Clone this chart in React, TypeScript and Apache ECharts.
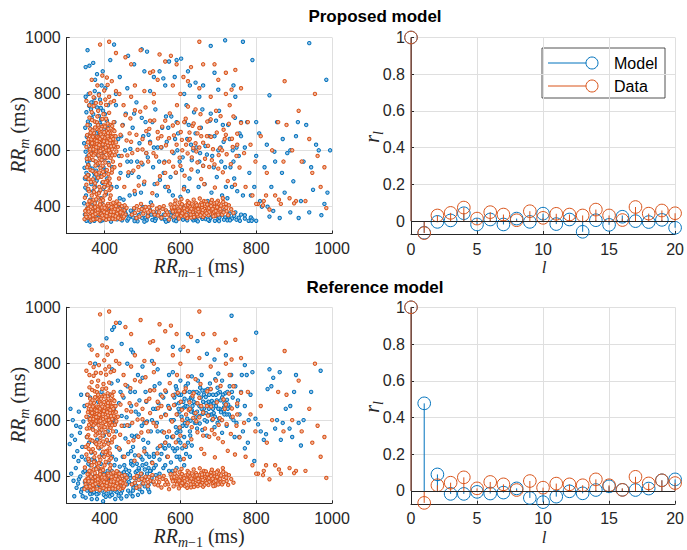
import React, { useEffect, useRef } from "react";
import * as echarts from "echarts";

const BLUE = "#0072BD";
const ORANGE = "#D95319";
const INK = "#262626";
const GRID = "#dfdfdf";
const SANS = "'Liberation Sans', Arial, Helvetica, sans-serif";
const SERIF = "'Liberation Serif', 'Times New Roman', serif";

// ---- autocorrelation (stem) data ----
const lags = [0, 1, 2, 3, 4, 5, 6, 7, 8, 9, 10, 11, 12, 13, 14, 15, 16, 17, 18, 19, 20];
const dataAcf = [1, -0.065, 0.031, 0.045, 0.074, 0.014, 0.049, 0.036, 0.005, 0.054, 0.018, 0.04, 0.036, 0.031, 0.063, 0.031, 0.014, 0.077, 0.041, 0.058, 0.043];
const proposedAcf = [1, -0.063, -0.004, 0.004, 0.043, -0.018, 0.009, -0.018, 0.014, -0.004, 0.041, -0.016, 0.009, -0.058, 0.005, -0.02, 0.031, 0.0, -0.005, 0.007, -0.036];
const referenceAcf = [1, 0.477, 0.09, -0.016, -0.016, -0.005, -0.014, -0.009, 0.014, -0.038, -0.061, -0.031, -0.002, -0.013, 0.005, 0.025, 0.013, 0.005, 0.013, 0.058, 0.063];

// ---- Poincaré scatter data: flat (RR_{m-1}, RR_m) pairs in ms ----
const dataShortLong = [352,612,358,640,361,598,365,655,368,583,371,626,374,702,377,560,380,648,383,611,386,673,389,590,392,635,395,545,398,688,401,620,404,657,407,574,410,640,413,603,416,690,419,626,422,560,425,650,428,612,355,690,359,571,363,625,367,707,370,644,373,592,376,618,379,676,382,553,385,633,388,662,391,605,394,711,397,579,400,645,403,596,406,668,409,617,412,548,415,661,418,589,421,637,424,700,427,583,430,628,357,547,362,676,366,610,369,566,372,661,375,637,378,596,381,720,384,645,387,571,390,618,393,683,396,603,399,664,402,557,405,633,408,695,411,588,414,626,417,651,420,604,423,672,426,540,354,654,360,629,364,588,368,670,372,611,376,546,380,699,384,582,388,641,392,566,396,630,400,594,404,712,408,650,412,669,416,573,420,686,424,615,360,716,365,639,370,604,375,681,380,624,385,596,390,656,395,621,400,575,405,601,410,676,415,636,420,582,397,728,383,740,366,735,412,733,371,757,404,761];
const dataShortLongCore = [356,628,362,604,369,648,374,587,379,633,386,619,391,676,398,632,403,610,409,661,414,592,419,647,426,668,431,596,363,662,371,582,378,611,389,598,394,648,407,628,417,614,423,640,359,583,367,625,383,690,401,684,411,600,429,650,353,570,387,556];
const dataLeftBand = [348,432,352,478,356,512,359,455,363,530,366,440,369,497,373,468,376,521,379,445,383,503,386,470,389,537,393,428,396,488,399,513,403,452,406,530,409,476,413,500,416,440,419,521,350,505,357,463,364,488,371,425,378,515,385,448,392,506,399,470,406,491,413,459,420,532,354,540,361,421,368,527,375,483,382,432,389,459,396,524,403,487,410,516,417,465,358,498,372,452,386,521,400,440,414,482,352,775,362,802,371,788,381,830,390,767,399,812,406,858,412,790,419,845,425,775,366,850,394,865,408,832,377,768,385,795,402,780,416,770,430,810,439,800,360,760];
const dataShortShort = [347,356,350,372,353,391,356,361,359,404,362,378,365,352,368,395,371,368,374,412,377,385,380,357,383,399,386,374,389,418,392,362,395,388,398,405,401,371,404,354,407,396,410,381,413,363,416,410,419,388,422,370,425,399,428,356,431,382,434,408,437,365,440,393,443,376,446,402,449,360,452,387,455,372,458,396,349,385,355,408,361,365,367,382,373,356,379,401,385,387,391,375,397,359,403,392,409,410,415,372,421,357,427,391,433,375,439,410,445,383,451,365,357,393,363,417,369,370,375,398,381,379,387,352,393,397,399,381,405,367,411,403,417,382,423,414,429,366,435,389,441,356,447,377,453,405,352,364,358,383,364,400,370,355,376,374,382,390,388,408,394,369,400,396,406,378,412,356,418,398,424,382,430,402,436,361,442,380,360,420,378,426,396,423,414,428,432,419];
const dataLongShort = [472,372,478,395,484,360,490,388,496,410,502,376,508,399,514,366,520,385,526,405,532,372,538,393,544,380,550,361,556,402,562,387,568,372,574,408,578,392,582,365,586,384,590,401,594,376,598,415,602,368,606,390,610,379,614,404,618,360,622,395,626,383,630,411,634,372,638,398,642,387,646,366,650,405,654,391,658,378,662,420,666,384,670,396,674,370,678,407,682,388,686,375,690,400,694,392,698,379,702,410,706,386,710,372,716,398,722,384,728,405,734,391,740,378,480,378,492,365,505,386,517,398,529,382,541,369,553,392,565,380,577,397,585,410,593,386,601,395,609,372,617,389,625,400,633,382,641,412,649,377,657,396,665,403,673,389,681,415,689,381,697,398,705,392,713,417,721,396,587,422,603,427,619,420,635,425,651,429,667,418,683,424,699,421,712,430,596,358,612,366,628,362,644,373,660,364,676,381,692,368,560,371,570,355,610,394,632,391,648,383,664,371,620,407,655,413,640,402,600,400,580,383,690,412,545,398,515,380,498,392,485,402];
const dataLongShortCore = [584,398,591,372,597,386,604,409,611,383,616,371,623,414,629,393,636,363,643,405,647,392,653,370,659,388,663,409,669,377,675,395,681,402,687,366,693,385,700,372,707,404,714,380,720,410,726,370,605,377,627,372,657,407,671,408,685,392,696,415];
const dataMiddle = [435,612,441,548,447,688,452,470,458,635,463,522,468,713,473,590,479,456,484,655,489,541,494,737,500,603,505,489,510,668,515,560,520,625,526,448,531,706,536,578,541,642,546,508,552,684,557,556,562,618,567,470,572,731,578,595,583,653,588,521,593,697,598,574,604,637,609,462,614,712,619,589,624,663,629,532,634,608,640,745,645,557,650,679,655,498,660,627,665,570,671,702,676,541,681,648,686,604,691,468,696,663,701,583,706,721,712,522,717,640,722,586,728,694,733,551,738,612,744,478,750,659,756,539,438,500,445,580,455,725,466,660,476,528,487,602,497,556,508,752,518,676,529,590,539,482,549,611,560,705,570,643,581,542,591,760,601,665,611,510,622,636,632,687,642,596,653,728,663,480,673,616,683,565,694,740,704,607,714,673,725,491,736,641,748,580,760,697,442,655,460,582,480,742,500,640,520,705,540,665,560,520,580,688,600,545,620,755,640,625,660,545,680,710,700,535,720,655,740,720,450,760,470,630,490,475,510,590,530,770,550,650,570,560,590,620,610,700,630,575,650,610,670,650,690,550,710,600,730,760,750,620,625,640,645,660,615,620,635,695,655,650,605,600];
const dataRight = [768,590,772,470,778,700,785,620,790,440,798,560,805,410,812,650,820,420,828,520,835,390,842,600,850,440,858,700,865,410,872,560,880,690,888,430,895,600,905,420,912,740,920,560,930,420,940,640,948,520,955,800,962,580,970,470,980,540,985,395,800,410,818,405,826,440,860,425,900,412];
const dataTop = [388,975,412,985,430,945,455,930,470,905,495,955,520,875,528,880,545,940,560,915,575,935,590,905,608,860,628,895,650,985,660,905,690,905,720,875,745,885,760,820,480,830,505,810,540,850,580,830,620,845,650,820,700,850,735,815,470,790,530,800,600,800,680,790,720,800,875,845];

const proposedLeftBand = [346,412,349,468,352,520,355,578,358,632,361,690,364,745,367,405,370,455,373,505,376,560,379,612,382,668,385,722,388,780,391,430,394,485,397,540,400,595,403,650,406,705,409,760,348,372,351,440,354,498,357,550,360,605,363,660,366,715,369,770,372,388,375,470,378,528,381,585,384,640,387,698,390,750,393,410,396,463,399,518,402,572,405,628,408,680,347,538,350,595,353,648,356,702,359,758,362,425,365,480,368,535,371,590,374,645,377,700,380,752,383,398,386,452,389,508,392,565,395,620,398,676,401,728,404,445,407,500,410,555,346,625,349,680,352,735,355,460,358,512,361,565,364,620,367,672,370,728,373,785,376,420,379,492,382,548,385,600,388,655,391,710,394,368,397,590,400,470,403,530,406,615,409,650,348,500,354,560,360,540,366,600,372,520,378,660,384,580,390,690,396,740,402,610,408,490,350,790,358,800,365,770,374,810,385,800];
const proposedBottomBand = [352,350,358,364,364,378,370,392,376,357,382,371,388,386,394,352,400,366,406,380,412,394,418,355,424,369,430,383,436,397,442,360,448,374,454,388,460,351,466,365,472,379,478,393,484,356,490,370,496,384,502,398,508,361,514,375,520,389,526,353,532,367,538,381,544,395,550,358,556,372,562,386,568,350,574,364,580,378,586,392,592,356,598,370,604,384,610,398,616,360,622,374,628,388,634,352,640,366,646,380,652,394,658,357,664,371,670,385,676,350,682,364,688,378,694,392,700,355,706,369,712,383,718,362,724,352,730,376,736,358,742,368,748,354,754,361,760,372,770,358,780,350,786,362,355,395,361,359,367,370,373,350,379,384,385,362,391,375,397,398,403,354,409,387,415,371,421,362,427,392,433,355,439,378,445,366,451,399,457,372,463,358,469,386,475,362,487,348,499,360,511,352,523,372,535,356,547,364,559,354,571,380,583,352,595,362,607,354,619,366,631,358,643,352,655,364,667,356,679,360,691,350,703,362,715,354,727,366];
const proposedBottomEdge = [362,347,389,349,417,347,446,352,479,349,505,347,533,350,562,347,589,349,618,352,646,348,673,354,702,349,731,352,757,350,395,382,455,377,515,366,575,370,635,374,695,368,745,380,770,370,790,355,800,350];
const proposedMiddle = [414,620,420,540,426,700,432,470,438,580,444,650,450,425,456,730,462,510,468,605,474,680,480,445,486,560,492,625,498,715,504,480,510,590,516,655,522,415,528,540,534,745,540,610,546,495,552,680,558,560,564,630,570,455,576,720,582,590,588,520,594,660,600,435,606,575,612,700,618,640,624,500,630,565,636,735,642,610,648,470,654,680,660,545,666,615,672,420,678,705,684,580,690,650,696,505,702,740,708,560,714,630,720,470,726,690,732,540,738,600,744,715,750,455,756,660,418,470,430,760,442,520,454,600,466,440,478,730,490,505,502,650,514,575,526,700,538,440,550,610,562,720,574,505,586,640,598,560,610,470,622,690,634,600,646,525,658,745,670,585,682,450,694,705,706,610,718,540,730,640,742,500,754,580,436,640,448,690,460,560,472,520,484,770,496,450,508,700,520,630,532,480,544,560,556,520,568,680,580,440,592,600,604,530,616,760,628,620,640,660,652,590,664,480,676,650,688,540,700,600,712,690,724,430,736,470,748,610,760,700,440,430,470,560,500,550,530,610,560,470,590,700,620,455,650,560,680,730,710,440,740,560];
const proposedRight = [765,440,770,610,776,700,782,520,788,350,795,470,800,580,808,660,815,400,822,540,828,620,835,365,840,470,848,595,855,700,862,360,868,520,875,450,882,590,890,380,898,490,905,650,912,360,918,420,925,560,932,690,940,380,945,540,950,460,958,620,965,600,972,370,980,410,988,450,995,600,850,560,870,640,830,400,810,420,800,700,890,600,910,700,760,650,786,440,845,385];
const proposedTop = [350,895,355,955,360,900,370,910,380,870,392,830,402,820,415,920,425,975,440,860,462,935,478,905,498,958,512,950,530,860,555,855,570,915,590,920,602,925,620,880,640,840,660,830,680,970,690,875,718,990,740,830,765,985,790,920,835,795,940,980,985,850,430,800,460,820,520,810,560,830,610,800,650,790,700,815,745,790,375,850,395,880,505,880,545,880,585,860,625,830];

const referenceCluster = [582,600,586,655,590,710,594,560,598,630,602,690,606,580,610,645,614,720,618,605,622,670,626,545,630,635,634,700,638,590,642,660,646,740,650,615,654,680,658,565,662,640,666,705,670,595,674,665,678,730,682,620,686,690,690,575,694,650,698,715,702,605,706,670,710,740,714,630,718,695,722,580,726,655,730,720,734,610,738,680,584,680,592,620,600,740,608,665,616,580,624,700,632,650,640,610,648,695,656,640,664,600,672,710,680,655,688,625,696,670,704,640,712,690,720,655,728,620,736,700,588,575,596,690,604,640,612,590,620,730,628,680,636,625,644,570,652,715,660,665,668,625,676,690,684,600,692,745,700,640,708,600,716,660,724,700,732,645,740,600,596,660,614,650,632,680,650,650,668,660,686,640,704,700,722,620,644,630,662,690,680,710,698,590,716,620,734,760,656,760,630,755,700,765,670,545,710,555,750,650,745,720,748,590,752,670,756,620,760,700,765,560,770,650,775,760,780,600,785,690,790,770,755,540,762,760,778,520,743,540];
const referenceClusterCore = [603,612,611,676,619,648,627,598,635,665,643,700,651,588,659,622,667,682,675,640,683,668,691,612,699,695,707,628,715,645,723,672,658,705,642,590,676,618,694,690,612,700,628,630,710,680,725,640,688,660];
const referenceLowBand = [320,330,326,360,332,390,338,345,344,415,350,325,356,375,362,440,368,340,374,400,380,320,386,360,392,425,398,335,404,385,410,450,416,345,422,410,428,320,434,370,440,435,446,350,452,400,458,330,464,380,470,445,476,360,482,415,488,335,494,390,500,440,506,365,512,410,518,345,524,395,530,430,336,400,342,330,348,380,354,350,360,410,366,320,372,365,378,430,384,340,390,395,396,312,402,360,408,420,414,330,420,375,426,440,432,345,438,400,444,322,450,365,456,425,462,350,468,395,474,440,480,378,486,420,492,355,498,410,504,385,510,445,516,370,522,420,528,380,330,375,346,360,362,338,378,380,394,350,410,395,426,360,442,385,458,405,474,330,490,400,506,425,340,355,356,415,372,345,388,420,404,400,420,335,436,415,452,440,468,340,484,395,500,375,516,430,365,395,385,372,405,340,425,392,445,410,465,420,485,445,390,445,430,460,470,455];
const referenceLowCore = [363,352,371,392,379,337,387,405,395,372,403,328,411,365,419,420,427,350,435,388,443,340,451,415,459,372,467,405,475,350,483,368,491,425,499,345,507,395,515,355,399,410,417,392,437,332,455,390,473,372];
const referenceLeft = [308,515,310,640,313,545,316,600,319,470,322,530,325,580,328,490,332,630,335,555,338,690,341,505,344,595,347,650,350,460,353,540,356,610,359,520,362,680,365,485,368,570,371,625,374,455,377,590,380,530,383,665,386,500,389,560,392,700,395,475,398,545,312,410,318,385,324,430,331,455,340,470,348,420,357,445,366,460,375,520,384,610,393,480,336,575,354,690,372,640];
const referenceMiddle = [405,600,410,520,415,690,420,470,425,640,430,560,435,740,440,495,445,615,450,680,455,535,460,720,465,580,470,650,475,505,480,700,485,545,490,620,495,470,500,750,505,590,510,665,515,520,520,705,525,600,530,480,535,640,540,560,545,730,550,510,555,680,560,620,565,540,570,760,575,600,580,500,585,690,590,555,595,640,408,560,418,730,428,590,438,660,448,470,458,610,468,700,478,540,488,760,498,580,508,700,518,470,528,640,538,590,548,690,558,500,568,650,578,540,588,720,598,570,412,645,432,505,452,580,472,545,492,670,512,595,532,720,552,560,572,640,592,500,422,600,442,700,462,480,482,630,502,530,522,560,542,660,562,700,582,600,597,470,600,520,420,780,460,800,500,790,540,780,580,770,520,420,525,450,530,470,535,440,540,500,545,460,550,480,555,430,560,520,565,470,570,510,575,450,580,540,585,490,590,470,595,530,600,560,605,500,610,540,615,480,620,520,625,560,630,510,610,440,600,460,580,420,560,440,545,410,535,405,570,420,590,430,615,505,625,470,500,460,510,480,490,430,480,475,470,490,505,500,560,500];
const referenceRight = [798,605,805,585,812,560,820,530,826,550,835,780,840,720,845,750,850,570,855,600,862,770,870,590,878,640,888,570,895,540,900,700,905,760,912,590,918,510,925,600,945,700,970,775,830,710,865,530,890,650,795,455,770,500];
const referenceTop = [360,865,375,800,405,890,420,920,425,930,440,945,470,850,475,840,525,810,580,860,600,850,620,905,645,880,670,835,690,815,720,830,735,970,770,795,800,910,445,870];

function toPairs(...flats: number[][]): number[][] {
  const out: number[][] = [];
  for (const f of flats) for (let i = 0; i + 1 < f.length; i += 2) out.push([f[i], f[i + 1]]);
  return out;
}

const dataPoints = toPairs(dataShortLong, dataShortLongCore, dataLeftBand, dataShortShort, dataLongShort, dataLongShortCore, dataMiddle, dataRight, dataTop);
const proposedPoints = toPairs(proposedLeftBand, proposedBottomBand, proposedBottomEdge, proposedMiddle, proposedRight, proposedTop);
const referencePoints = toPairs(referenceCluster, referenceClusterCore, referenceLowBand, referenceLowCore, referenceLeft, referenceMiddle, referenceRight, referenceTop);

const tickLabel = { color: INK, fontSize: 16, fontFamily: SANS, formatter: (v: number) => String(Math.round(v * 1000) / 1000) };

function valueAxis(gridIndex: number, min: number, max: number, splitNumber: number, showMin: boolean, extra: any = {}) {
  return {
    type: "value",
    gridIndex,
    min,
    max,
    splitNumber,
    axisLine: { show: true, onZero: false, lineStyle: { color: INK, width: 1 } },
    axisTick: { show: true, inside: true, length: 3, lineStyle: { color: INK, width: 1 } },
    axisLabel: { ...tickLabel, margin: 6, showMinLabel: showMin, showMaxLabel: true, ...(extra.axisLabel || {}) },
    splitLine: { show: true, lineStyle: { color: GRID, width: 1 } },
    ...(extra.rest || {}),
  };
}

function scatterSeries(idx: number, pts: number[][], color: string, fill: string) {
  return {
    type: "scatter",
    xAxisIndex: idx,
    yAxisIndex: idx,
    data: pts,
    symbol: "circle",
    symbolSize: 3.4,
    itemStyle: { color: fill, borderColor: color, borderWidth: 1, opacity: 1 },
    emphasis: { disabled: true },
    silent: true,
  };
}

function stemSeries(idx: number, values: number[], color: string, baseline: boolean) {
  const s: any = {
    type: "custom",
    xAxisIndex: idx,
    yAxisIndex: idx,
    data: lags.map((l, i) => [l, values[i]]),
    clip: false,
    silent: true,
    renderItem: (_params: any, api: any) => {
      const p0 = api.coord([api.value(0), 0]);
      const p1 = api.coord([api.value(0), api.value(1)]);
      return {
        type: "group",
        children: [
          { type: "line", shape: { x1: p0[0], y1: p0[1], x2: p1[0], y2: p1[1] }, style: { stroke: color, lineWidth: 1 } },
          { type: "circle", shape: { cx: p1[0], cy: p1[1], r: 6.3 }, style: { fill: "none", stroke: color, lineWidth: 1 } },
        ],
      };
    },
  };
  if (baseline) {
    s.markLine = {
      silent: true,
      symbol: ["none", "none"],
      label: { show: false },
      lineStyle: { color: INK, width: 1, type: "solid" },
      data: [{ yAxis: 0 }],
    };
  }
  return s;
}

function richLabel(x: number, y: number, main: string, sub: string, subTail: string, tail: string, rotate: boolean) {
  return {
    type: "text",
    x,
    y,
    rotation: rotate ? Math.PI / 2 : 0,
    silent: true,
    style: {
      text: `{a|${main}}{b|${sub}}{d|${subTail}}{c|${tail}}`,
      align: "center",
      verticalAlign: "middle",
      rich: {
        a: { fontFamily: SERIF, fontStyle: "italic", fontSize: 20, lineHeight: 26, fill: INK },
        b: { fontFamily: SERIF, fontStyle: "italic", fontSize: 14, lineHeight: 14, verticalAlign: "bottom", fill: INK },
        d: { fontFamily: SERIF, fontSize: 14, lineHeight: 14, verticalAlign: "bottom", fill: INK },
        c: { fontFamily: SERIF, fontSize: 20, lineHeight: 26, fill: INK },
      },
    },
  };
}

function lagLabel(y: number) {
  return {
    type: "text",
    x: 544,
    y,
    silent: true,
    style: { text: "l", fontFamily: SERIF, fontStyle: "italic", fontSize: 17, lineHeight: 12, fill: INK, align: "center", verticalAlign: "middle" },
  };
}

function legendGraphic() {
  const left = 542, top = 48, w = 123, h = 50;
  const rows = [
    { label: "Model", color: BLUE, y: 63 },
    { label: "Data", color: ORANGE, y: 86 },
  ];
  const children: any[] = [
    { type: "rect", shape: { x: left, y: top, width: w, height: h }, style: { fill: "#ffffff", stroke: INK, lineWidth: 0.8 } },
  ];
  for (const r of rows) {
    children.push({ type: "line", shape: { x1: 548, y1: r.y, x2: 586, y2: r.y }, style: { stroke: r.color, lineWidth: 1 } });
    children.push({ type: "circle", shape: { cx: 592, cy: r.y, r: 6 }, style: { fill: "none", stroke: r.color, lineWidth: 1 } });
    children.push({ type: "text", x: 614, y: r.y, style: { text: r.label, fontFamily: SANS, fontSize: 16, fill: "#000", align: "left", verticalAlign: "middle" } });
  }
  return { type: "group", silent: true, z: 100, children };
}

export default function App() {
  const ref = useRef<HTMLDivElement>(null);
  useEffect(() => {
    if (!ref.current) return;
    const chart = echarts.init(ref.current, undefined, { renderer: "svg" });
    const grids = [
      { left: 66.7, top: 37.5, width: 265.3, height: 196 },
      { left: 411, top: 37.5, width: 266.3, height: 196.5 },
      { left: 66.7, top: 307.3, width: 265.3, height: 196 },
      { left: 411, top: 307.3, width: 266.3, height: 196.5 },
    ].map((g) => ({ ...g, containLabel: false, show: false }));

    const option: any = {
      animation: false,
      backgroundColor: "#ffffff",
      grid: grids,
      xAxis: [
        valueAxis(0, 300, 1000, 4, false, { axisLabel: { margin: 7 } }),
        valueAxis(1, 0, 20, 4, true, { axisLabel: { margin: 7 }, rest: { interval: 5 } }),
        valueAxis(2, 300, 1000, 4, false, { axisLabel: { margin: 7 } }),
        valueAxis(3, 0, 20, 4, true, { axisLabel: { margin: 7 }, rest: { interval: 5 } }),
      ],
      yAxis: [
        valueAxis(0, 305, 1000, 4, false),
        valueAxis(1, -0.07, 1, 5, false),
        valueAxis(2, 305, 1000, 4, false),
        valueAxis(3, -0.07, 1, 5, false),
      ],
      series: [
        scatterSeries(0, proposedPoints, BLUE, "#9cc3e3"),
        scatterSeries(0, dataPoints, ORANGE, "#efb59c"),
        stemSeries(1, proposedAcf, BLUE, true),
        stemSeries(1, dataAcf, ORANGE, false),
        scatterSeries(2, referencePoints, BLUE, "#9cc3e3"),
        scatterSeries(2, dataPoints, ORANGE, "#efb59c"),
        stemSeries(3, referenceAcf, BLUE, true),
        stemSeries(3, dataAcf, ORANGE, false),
      ],
      graphic: [
        { type: "text", x: 375, y: 16, silent: true, style: { text: "Proposed model", fontFamily: SANS, fontWeight: "bold", fontSize: 17, fill: "#000", align: "center", verticalAlign: "middle" } },
        { type: "text", x: 375, y: 287, silent: true, style: { text: "Reference model", fontFamily: SANS, fontWeight: "bold", fontSize: 17, fill: "#000", align: "center", verticalAlign: "middle" } },
        richLabel(199, 266, "RR", "m", "−1", " (ms)", false),
        richLabel(199, 536, "RR", "m", "−1", " (ms)", false),
        richLabel(18, 135, "RR", "m", "", " (ms)", true),
        richLabel(18, 405, "RR", "m", "", " (ms)", true),
        richLabel(372, 137, "r", "l", "", "", true),
        richLabel(372, 407, "r", "l", "", "", true),
        lagLabel(267),
        lagLabel(537),
        legendGraphic(),
      ],
    };
    chart.setOption(option);
    return () => chart.dispose();
  }, []);
  return (
    <div
      ref={ref}
      style={{ position: "fixed", left: 0, top: 0, width: 687, height: 550, background: "#fff" }}
    />
  );
}
